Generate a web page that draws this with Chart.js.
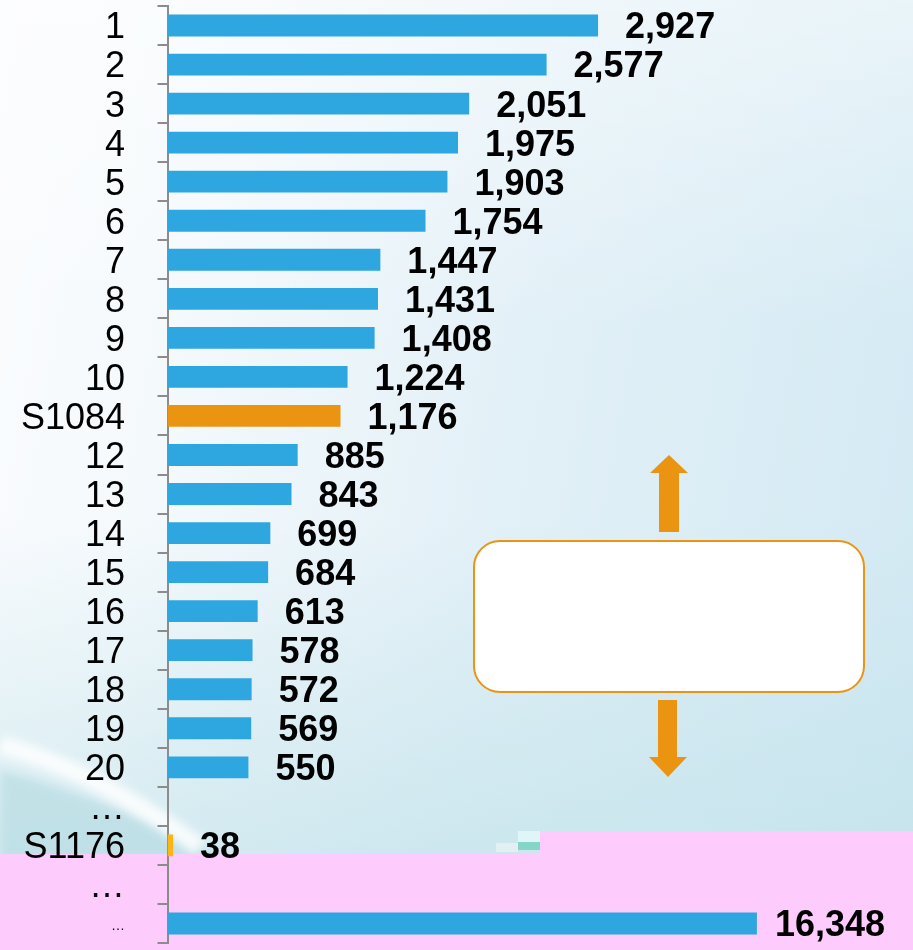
<!DOCTYPE html>
<html>
<head>
<meta charset="utf-8">
<script src="https://cdn.jsdelivr.net/npm/chart.js@4"></script>
<style>
  html, body { margin: 0; padding: 0; }
  body { width: 913px; height: 950px; overflow: hidden; position: relative;
    background:
      linear-gradient(to bottom, rgba(255,255,255,0.45) 0%, rgba(255,255,255,0) 35%),
      linear-gradient(to bottom, rgba(255,255,255,0) 55%, rgba(188,224,232,0.55) 90%),
      linear-gradient(100deg, #fbfcfe 0%, #f4f9fc 22%, #e2f0f7 55%, #d2e9f3 100%);
  }
  #deco { position: absolute; left: 0; top: 0; }
  #wrap { position: absolute; left: 0; top: 0; width: 913px; height: 950px; }
</style>
</head>
<body>
<svg id="deco" width="913" height="950">
  <defs>
    <filter id="soft" x="-20%" y="-20%" width="140%" height="140%"><feGaussianBlur stdDeviation="5"/></filter>
  </defs>
  <!-- swoosh at the lower left -->
  <path d="M0,770 Q110,800 230,860 L0,860 Z" fill="#b9dde4" opacity="0.75" filter="url(#soft)"/>
  <path d="M0,745 Q100,772 200,848" stroke="#ffffff" stroke-width="18" fill="none" opacity="0.85" filter="url(#soft)"/>
  <!-- pink block -->
  <rect x="0" y="854" width="913" height="96" fill="#fecbfd"/>
  <rect x="540" y="831" width="373" height="30" fill="#fecbfd"/>
  <rect x="518" y="831" width="22" height="11" fill="#dff6f8"/>
  <rect x="518" y="842" width="22" height="8" fill="#86d6c8"/>
  <rect x="496" y="843" width="22" height="9" fill="#e8f2f4" opacity="0.8"/>
  <!-- box and arrows -->
  <rect x="474" y="541" width="390" height="151" rx="26" ry="26" fill="#ffffff" stroke="#eb9412" stroke-width="2"/>
  <polygon points="659,532 679,532 679,473 688,473 669,455 650,473 659,473" fill="#eb9412"/>
  <polygon points="658,700 677,700 677,757 687,757 668,777 649,757 658,757" fill="#eb9412"/>
</svg>
<div id="wrap"><canvas id="chart" width="913" height="950"></canvas></div>
<script>
const categories = ['1', '2', '3', '4', '5', '6', '7', '8', '9', '10', 'S1084',
  '12', '13', '14', '15', '16', '17', '18', '19', '20', '…', 'S1176', '…', '…'];
// ranked values, the gaps ("…") are null
const values = [2927, 2577, 2051, 1975, 1903, 1754, 1447, 1431, 1408, 1224, 1176,
  885, 843, 699, 684, 613, 578, 572, 569, 550, null, 38, null];
// last bar is the total, drawn on its own (broken) scale
const totalValue = 16348;

const BLUE = '#2ea6df';
const ORANGE = '#eb9412';
const YELLOW = '#fdb515';

const rankData = values.concat([null]);
const totalData = categories.map((_, i) => (i === categories.length - 1 ? totalValue : null));
const rankColors = categories.map((c) => (c === 'S1084' ? ORANGE : c === 'S1176' ? YELLOW : BLUE));

const valueLabels = {
  id: 'valueLabels',
  afterDatasetsDraw(chart) {
    const ctx = chart.ctx;
    ctx.save();
    ctx.font = 'bold 36px "Liberation Sans", Arial, sans-serif';
    ctx.fillStyle = '#000';
    ctx.textAlign = 'left';
    ctx.textBaseline = 'middle';
    chart.data.datasets.forEach((ds, di) => {
      chart.getDatasetMeta(di).data.forEach((bar, i) => {
        const v = ds.data[i];
        if (v === null || v === undefined) return;
        const gap = di === 1 ? 18 : 27;
        ctx.fillText(v.toLocaleString('en-US'), bar.x + gap, bar.y + 3);
      });
    });
    ctx.restore();
  },
};

new Chart(document.getElementById('chart'), {
  type: 'bar',
  data: {
    labels: categories,
    datasets: [
      { data: rankData, backgroundColor: rankColors, xAxisID: 'x' },
      { data: totalData, backgroundColor: BLUE, xAxisID: 'x2' },
    ],
  },
  options: {
    indexAxis: 'y',
    responsive: false,
    animation: false,
    datasets: {
      bar: { grouped: false, categoryPercentage: 1, barPercentage: 0.56, borderWidth: 0 },
    },
    layout: { padding: { top: 6, bottom: 7, left: 0, right: 10 } },
    plugins: {
      legend: { display: false },
      tooltip: { enabled: false },
      title: { display: false },
    },
    scales: {
      x: { type: 'linear', display: false, min: 0, max: 5000 },
      x2: { type: 'linear', display: false, min: 0, max: 20400 },
      y: {
        type: 'category',
        afterFit: (scale) => {
          scale.width = 167.5;
          scale.paddingTop = 0;
          scale.paddingBottom = 0;
        },
        border: { display: true, color: '#8c8c8c', width: 2 },
        grid: {
          offset: true,
          drawOnChartArea: false,
          drawTicks: true,
          tickLength: 10,
          color: '#8c8c8c',
          lineWidth: 2,
        },
        ticks: {
          padding: 32.5,
          labelOffset: 3,
          color: '#000',
          autoSkip: false,
          font: (ctx) => ({
            family: '"Liberation Sans", Arial, sans-serif',
            size: ctx.index === categories.length - 1 ? 14 : 36,
          }),
        },
      },
    },
  },
  plugins: [valueLabels],
});
</script>
</body>
</html>
